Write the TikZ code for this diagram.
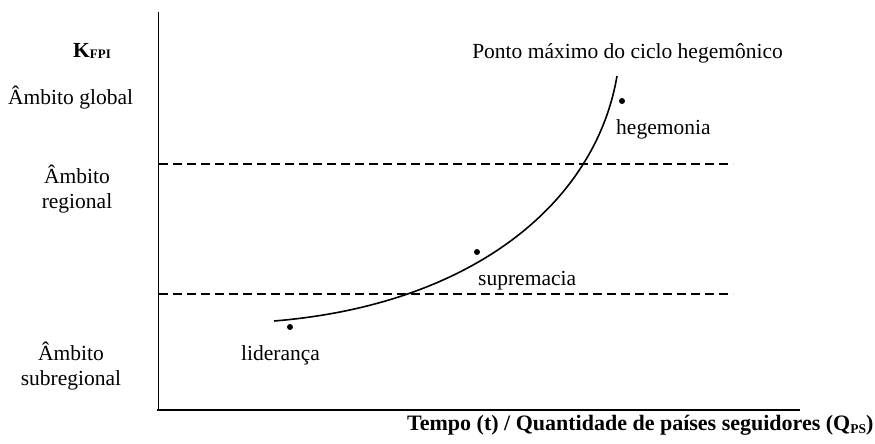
\documentclass[tikz,border=0pt]{standalone}
\usepackage{fontspec}
\setmainfont{Liberation Serif}
\begin{document}
\begin{tikzpicture}[x=1pt,y=-1pt,
  lbl/.style={inner sep=0pt, font=\fontsize{21.5}{24.5}\selectfont},
  axisline/.style={line width=1.8pt},
  guide/.style={line width=1.6pt, dash pattern=on 9pt off 5pt},
  trend/.style={line width=1.6pt},
  pt/.style={circle, fill=black, inner sep=0pt, minimum size=6pt}]
\useasboundingbox (0,0) rectangle (875,444);
% axes
\coordinate (ytop) at (158.5,12);
\coordinate (origin) at (158.5,410);
\coordinate (xstart) at (157,410);
\coordinate (xend) at (800,410);
\draw[axisline] (ytop) -- (origin);
\draw[axisline] (xstart) -- (xend);
% dashed levels
\coordinate (u1) at (159,164);
\coordinate (u2) at (733,164);
\coordinate (l1) at (159,294);
\coordinate (l2) at (733,294);
\draw[guide] (u1) -- (u2);
\draw[guide] (l1) -- (l2);
% curve
\coordinate (cstart) at (274,321);
\coordinate (cend) at (617,76);
\draw[trend] (cstart) .. controls (470,305) and (595,205) .. (cend);
% dots
\node[pt] (dlid) at (290,327) {};
\node[pt] (dsup) at (477,252) {};
\node[pt] (dheg) at (622,101) {};
% labels
\node[lbl, anchor=base west] (lid) at (241,360) {liderança};
\node[lbl, anchor=base west] (sup) at (478,285) {supremacia};
\node[lbl, anchor=base west] (heg) at (616,134) {hegemonia};
\node[lbl, anchor=base] (ponto) at (627.5,59) {Ponto máximo do ciclo hegemônico};
\node[lbl, anchor=base west] (kfpi) at (73,58) {\bfseries K\raisebox{-1pt}{\fontsize{13}{13}\selectfont FPI}};
\node[lbl, anchor=base west] (glob) at (8,104) {Âmbito global};
\node[lbl, anchor=base, align=center] (reg) at (77,208) {Âmbito\\regional};
\node[lbl, anchor=base, align=center] (subreg) at (71,385) {Âmbito\\subregional};
\node[lbl, anchor=base west, font=\fontsize{22}{24}\selectfont] (xlab) at (407,430) {\bfseries Tempo (t) / Quantidade de países seguidores (Q\raisebox{-3pt}{\fontsize{13.5}{13.5}\selectfont PS})};
\end{tikzpicture}
\end{document}
